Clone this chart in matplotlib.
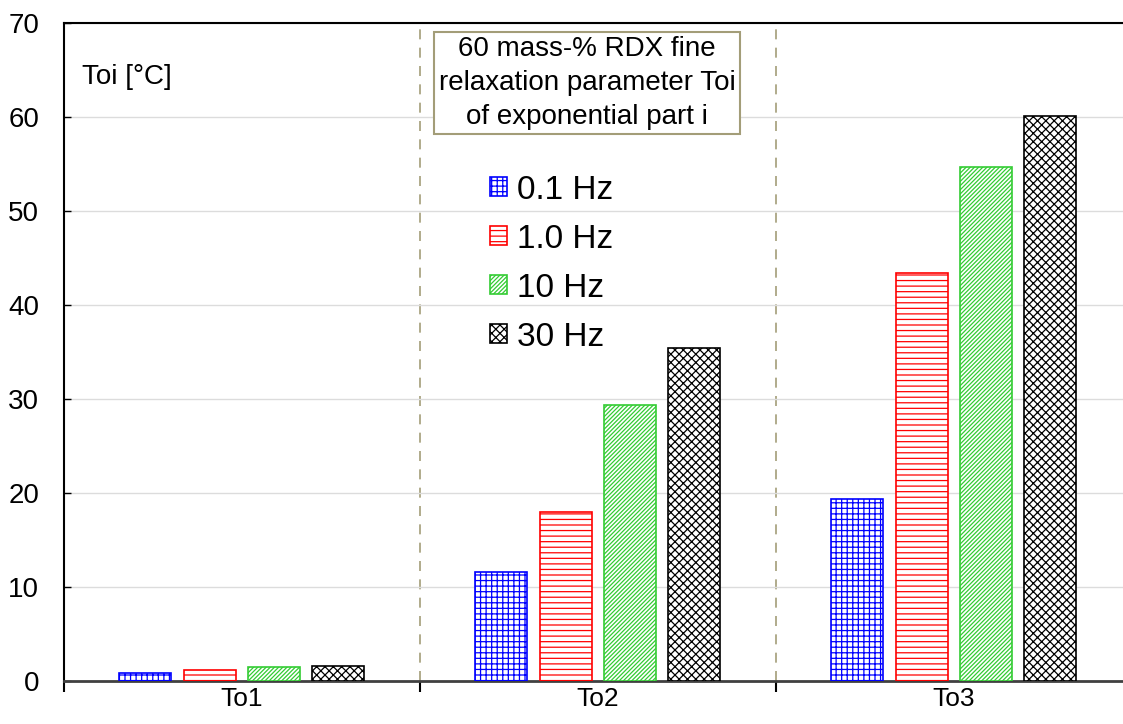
import matplotlib.pyplot as plt
import numpy as np

plt.rcParams['font.family'] = ['Liberation Sans', 'DejaVu Sans']
plt.rcParams['hatch.linewidth'] = 0.9

# data
groups = ['To1', 'To2', 'To3']
series = ['0.1 Hz', '1.0 Hz', '10 Hz', '30 Hz']
vals_01hz = [0.85, 11.6, 19.4]
vals_1hz = [1.2, 18.0, 43.4]
vals_10hz = [1.5, 29.4, 54.7]
vals_30hz = [1.6, 35.4, 60.1]

colors = ['#0000ff', '#ff0000', '#33cc33', '#000000']
hatches = ['+++', '---', '////////', 'xxxx']

fig = plt.figure(figsize=(11.23, 7.24), dpi=100)
ax = fig.add_axes([64 / 1123, 1 - 681 / 724, (1123 - 64) / 1123, (681 - 23) / 724])

x = np.arange(len(groups)) + 0.5
width = 0.146
offsets = [-0.272, -0.091, 0.09, 0.271]
all_vals = [vals_01hz, vals_1hz, vals_10hz, vals_30hz]
for vals, name, col, h, off in zip(all_vals, series, colors, hatches, offsets):
    ax.bar(x + off, vals, width, facecolor='white', edgecolor=col,
           hatch=h, linewidth=1.2, label=name, zorder=3)

ax.set_xlim(0, (1123 - 64) / 356)
ax.set_ylim(0, 70)
ax.set_yticks(range(0, 71, 10))
ax.grid(axis='y', color='#dcdcdc', linewidth=1, zorder=0)

# group separators
for sep in [1, 2]:
    ax.axvline(sep, color='#a39d78', linestyle=(0, (6, 5)), linewidth=1.2, zorder=1)

ax.set_xticks([0, 1, 2])
ax.set_xticklabels([])
ax.set_xticks(x, minor=True)
ax.set_xticklabels(groups, minor=True, fontsize=19)
ax.tick_params(axis='x', which='major', direction='out', length=8, width=1.5)
ax.tick_params(axis='x', which='minor', length=0, pad=4)
ax.tick_params(axis='y', direction='in', length=5, width=1, labelsize=20, pad=18)

ax.spines['right'].set_visible(False)
ax.spines['top'].set_linewidth(1.5)
ax.spines['left'].set_linewidth(1.5)
ax.spines['bottom'].set_linewidth(2)
ax.spines['bottom'].set_color('#404040')

ax.text(0.017, 0.918, 'Toi [°C]', transform=ax.transAxes, fontsize=20,
        ha='left', va='center')

ax.text((587 - 64) / (1123 - 64), (681 - 83) / 658,
        '60 mass-% RDX fine\nrelaxation parameter Toi\nof exponential part i',
        transform=ax.transAxes, fontsize=20, ha='center', va='center',
        linespacing=1.38,
        bbox=dict(boxstyle='square,pad=0.15', facecolor='white', edgecolor='#a39d78', linewidth=1.5))

ax.legend(loc='upper left', bbox_to_anchor=(0.374, 0.815), frameon=False,
          fontsize=24, handlelength=0.5, handleheight=0.5, handletextpad=0.3,
          labelspacing=0.54)

fig.savefig('out.png', dpi=100)
